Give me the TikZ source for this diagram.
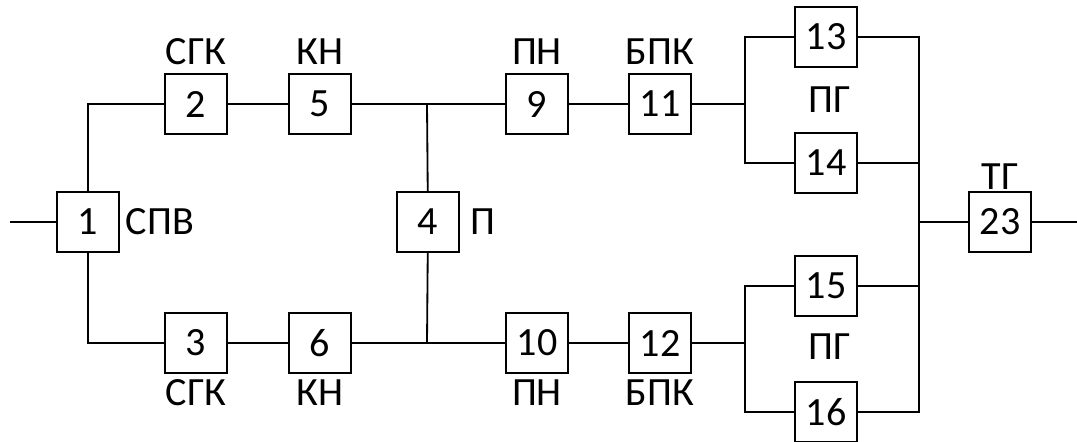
\documentclass[tikz,border=0pt]{standalone}
\usepackage{fontspec}
\setmainfont{Carlito}
\usetikzlibrary{positioning}

\begin{document}
\begin{tikzpicture}[x=0.025cm, y=-0.025cm,
  blk/.style={draw, line width=1.3pt, minimum width=1.55cm, minimum height=1.48cm,
              inner sep=0pt, font=\fontsize{28.5}{32}\selectfont},
  lbl/.style={inner sep=0pt, font=\fontsize{28.5}{32}\selectfont},
  ln/.style={line width=1.3pt},
]
\useasboundingbox (0,0) rectangle (1077,441);

% Input and splitter
\coordinate (in) at (10,222);
\node[blk] (b1) at (88,222) {1};
\node[lbl] (l1) at (160,222) {СПВ};

% Upper and lower chains
\node[blk] (b2) at (196,104) {2};
\node[blk] (b5) at (320,104) {5};
\node[blk] (b3) at (196,343) {3};
\node[blk] (b6) at (320,343) {6};
\node[lbl] (l2) at (196,52) {СГК};
\node[lbl] (l5) at (320,52) {КН};
\node[lbl] (l3) at (196,393) {СГК};
\node[lbl] (l6) at (320,393) {КН};

% Cross link
\coordinate (j1) at (427,104);
\coordinate (j2) at (427,343);
\node[blk] (b4) at (428,222) {4};
\node[lbl] (l4) at (483,222) {П};

\node[blk] (b9) at (537,104) {9};
\node[blk] (b11) at (660,104) {11};
\node[blk] (b10) at (537,343) {10};
\node[blk] (b12) at (660,343) {12};
\node[lbl] (l9) at (537,52) {ПН};
\node[lbl] (l11) at (660,52) {БПК};
\node[lbl] (l10) at (537,393) {ПН};
\node[lbl] (l12) at (660,393) {БПК};

% Generators
\coordinate (j3) at (745,104);
\coordinate (j4) at (745,343);
\coordinate (j5) at (919,222);
\node[blk] (b13) at (826,37) {13};
\node[blk] (b14) at (826,163) {14};
\node[blk] (b15) at (826,286) {15};
\node[blk] (b16) at (826,412) {16};
\node[lbl] (lg1) at (830,100) {ПГ};
\node[lbl] (lg2) at (830,347) {ПГ};

% Output
\node[blk] (b23) at (1000,222) {23};
\node[lbl] (l23) at (1000,177) {ТГ};
\coordinate (out) at (1077,222);

\draw[ln] (in) -- (b1);
\draw[ln] (b1) |- (b2);
\draw[ln] (b1) |- (b3);
\draw[ln] (b2) -- (b5);
\draw[ln] (b3) -- (b6);
\draw[ln] (b5) -- (j1) -- (b9);
\draw[ln] (b6) -- (j2) -- (b10);
\draw[ln] (j1) -- (b4);
\draw[ln] (b4) -- (j2);
\draw[ln] (b9) -- (b11);
\draw[ln] (b10) -- (b12);
\draw[ln] (b11) -- (j3);
\draw[ln] (b12) -- (j4);
\draw[ln] (b13.west) -| (j3);
\draw[ln] (b14.west) -| (j3);
\draw[ln] (b15.west) -| (j4);
\draw[ln] (b16.west) -| (j4);
\draw[ln] (b13.east) -| (j5);
\draw[ln] (b14.east) -| (j5);
\draw[ln] (b15.east) -| (j5);
\draw[ln] (b16.east) -| (j5);
\draw[ln] (j5) -- (b23);
\draw[ln] (b23) -- (out);
\end{tikzpicture}
\end{document}
